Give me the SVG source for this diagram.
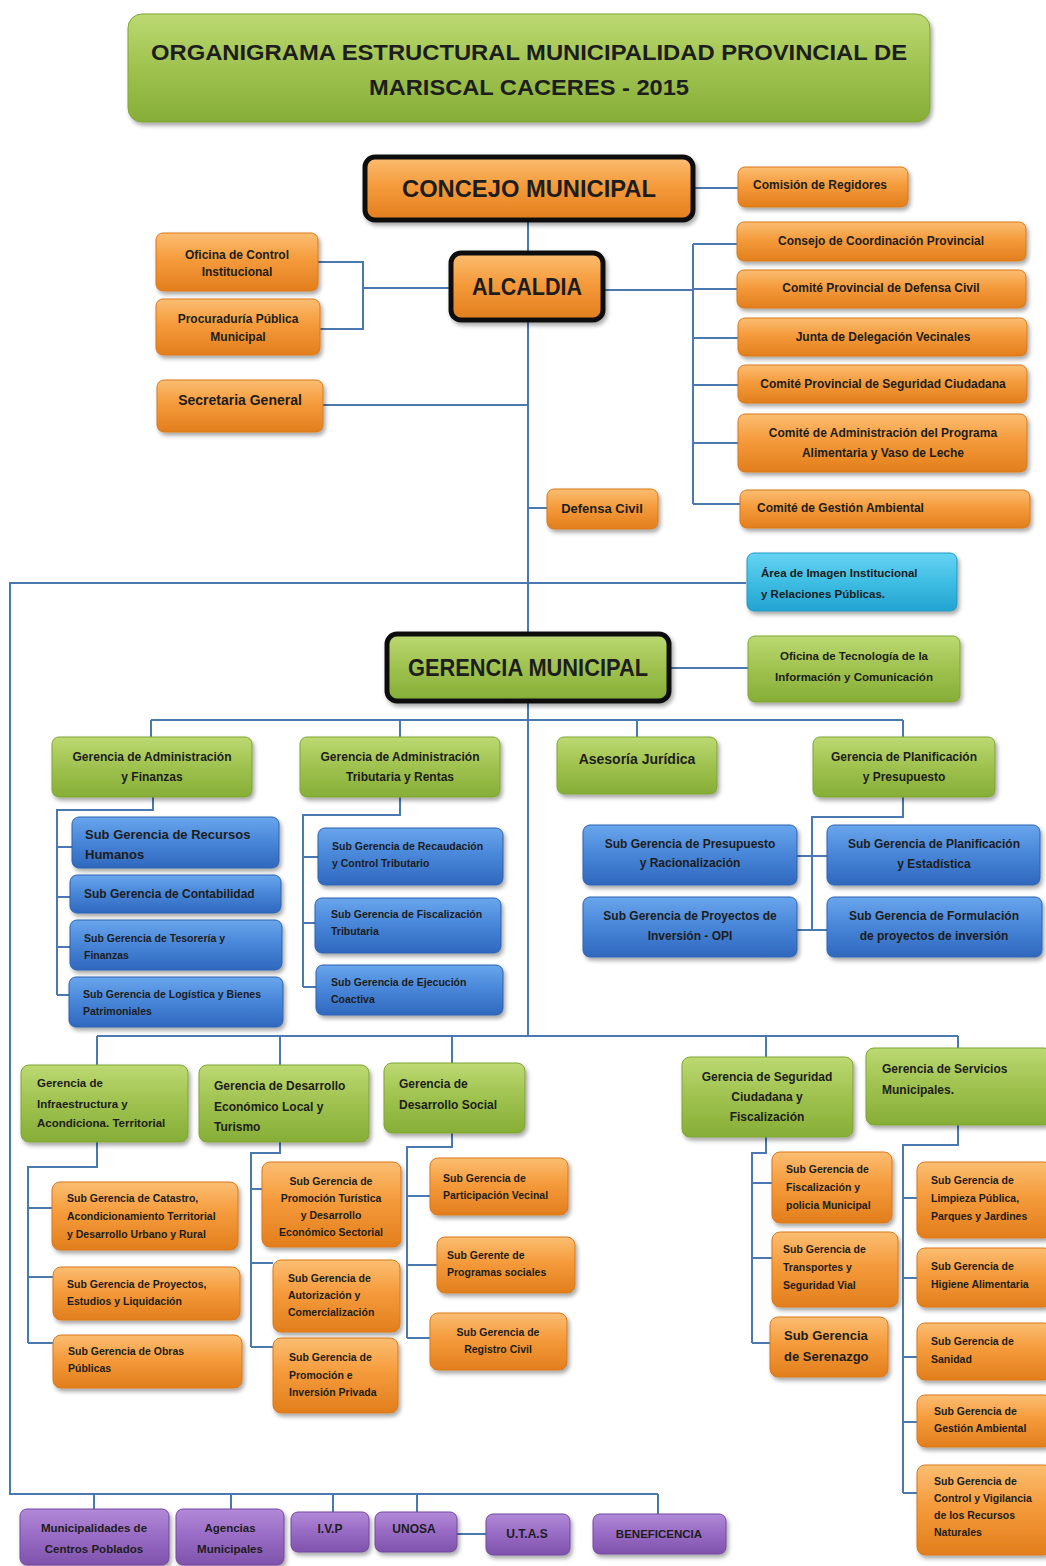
<svg xmlns="http://www.w3.org/2000/svg" width="1046" height="1566" viewBox="0 0 1046 1566">
<defs>
<linearGradient id="gO" x1="0" y1="0" x2="0" y2="1"><stop offset="0" stop-color="#FBBE72"/><stop offset="0.45" stop-color="#F59B3C"/><stop offset="1" stop-color="#E27E1C"/></linearGradient>
<linearGradient id="gG" x1="0" y1="0" x2="0" y2="1"><stop offset="0" stop-color="#BCD972"/><stop offset="0.45" stop-color="#A2C452"/><stop offset="1" stop-color="#86AE36"/></linearGradient>
<linearGradient id="gB" x1="0" y1="0" x2="0" y2="1"><stop offset="0" stop-color="#6AA6EC"/><stop offset="0.45" stop-color="#4A88DA"/><stop offset="1" stop-color="#2F68BE"/></linearGradient>
<linearGradient id="gC" x1="0" y1="0" x2="0" y2="1"><stop offset="0" stop-color="#66D3F2"/><stop offset="0.5" stop-color="#3FBDE3"/><stop offset="1" stop-color="#22A3D0"/></linearGradient>
<linearGradient id="gP" x1="0" y1="0" x2="0" y2="1"><stop offset="0" stop-color="#B28AD8"/><stop offset="0.45" stop-color="#9A6DC6"/><stop offset="1" stop-color="#7F52AC"/></linearGradient>
<filter id="sh" x="-10%" y="-10%" width="125%" height="140%"><feDropShadow dx="2" dy="3" stdDeviation="2" flood-color="#000" flood-opacity="0.35"/></filter>
</defs>
<style>
.o{fill:url(#gO);stroke:#D9781A;stroke-width:1;filter:url(#sh)}
.g{fill:url(#gG);stroke:#7FA534;stroke-width:1;filter:url(#sh)}
.b{fill:url(#gB);stroke:#2C62B0;stroke-width:1;filter:url(#sh)}
.c{fill:url(#gC);stroke:#1E98C4;stroke-width:1;filter:url(#sh)}
.p{fill:url(#gP);stroke:#73479E;stroke-width:1;filter:url(#sh)}
.k{stroke:#111;stroke-width:5}
text{font-family:"Liberation Sans",Arial,sans-serif;font-weight:bold;fill:#1d1d1d}
.m{text-anchor:middle}
.f10{font-size:10.5px}
.f11{font-size:11.5px}
.f12{font-size:12px}
.f13{font-size:13px}
.f14{font-size:14px}
.big{font-size:24px}
.tt{font-size:22px}
#conn line,#conn polyline{stroke:#4A78B0;stroke-width:2;fill:none}
</style>

<g id="conn">
<line x1="528" y1="220" x2="528" y2="252"/>
<line x1="694" y1="188" x2="738" y2="188"/>
<polyline points="318,262 363,262 363,329 320,329"/>
<line x1="363" y1="288" x2="451" y2="288"/>
<line x1="323" y1="405" x2="528" y2="405"/>
<line x1="603" y1="290" x2="693" y2="290"/>
<line x1="693" y1="244" x2="693" y2="504"/>
<line x1="693" y1="244" x2="737" y2="244"/>
<line x1="693" y1="289" x2="737" y2="289"/>
<line x1="693" y1="338" x2="738" y2="338"/>
<line x1="693" y1="385" x2="738" y2="385"/>
<line x1="693" y1="443" x2="738" y2="443"/>
<line x1="693" y1="504" x2="740" y2="504"/>
<line x1="528" y1="320" x2="528" y2="1036"/>
<line x1="528" y1="508" x2="547" y2="508"/>
<polyline points="746,583 10,583 10,1494 658,1494"/>
<line x1="669" y1="668" x2="748" y2="668"/>
<line x1="151" y1="720" x2="903" y2="720"/>
<line x1="151" y1="720" x2="151" y2="737"/>
<line x1="400" y1="720" x2="400" y2="737"/>
<line x1="637" y1="720" x2="637" y2="737"/>
<line x1="903" y1="720" x2="903" y2="737"/>
<polyline points="153,797 153,810 57,810 57,995"/>
<line x1="57" y1="847" x2="72" y2="847"/>
<line x1="57" y1="897" x2="70" y2="897"/>
<line x1="57" y1="947" x2="70" y2="947"/>
<line x1="57" y1="995" x2="69" y2="995"/>
<polyline points="400,797 400,815 303,815 303,987"/>
<line x1="303" y1="857" x2="318" y2="857"/>
<line x1="303" y1="923" x2="315" y2="923"/>
<line x1="303" y1="987" x2="316" y2="987"/>
<polyline points="903,797 903,817 812,817 812,930"/>
<line x1="797" y1="856" x2="827" y2="856"/>
<line x1="797" y1="930" x2="827" y2="930"/>
<line x1="97" y1="1036" x2="958" y2="1036"/>
<line x1="97" y1="1036" x2="97" y2="1065"/>
<line x1="280" y1="1036" x2="280" y2="1065"/>
<line x1="452" y1="1036" x2="452" y2="1063"/>
<line x1="766" y1="1036" x2="766" y2="1057"/>
<line x1="958" y1="1036" x2="958" y2="1048"/>
<polyline points="97,1142 97,1167 28,1167 28,1343"/>
<line x1="28" y1="1208" x2="52" y2="1208"/>
<line x1="28" y1="1277" x2="53" y2="1277"/>
<line x1="28" y1="1343" x2="53" y2="1343"/>
<polyline points="280,1142 280,1153 251,1153 251,1347"/>
<line x1="251" y1="1189" x2="262" y2="1189"/>
<line x1="251" y1="1263" x2="273" y2="1263"/>
<line x1="251" y1="1347" x2="273" y2="1347"/>
<polyline points="452,1133 452,1147 407,1147 407,1338"/>
<line x1="407" y1="1196" x2="430" y2="1196"/>
<line x1="407" y1="1265" x2="437" y2="1265"/>
<line x1="407" y1="1338" x2="430" y2="1338"/>
<polyline points="766,1137 766,1153 752,1153 752,1343"/>
<line x1="752" y1="1183" x2="772" y2="1183"/>
<line x1="752" y1="1258" x2="772" y2="1258"/>
<line x1="752" y1="1343" x2="770" y2="1343"/>
<polyline points="958,1125 958,1145 903,1145 903,1493"/>
<line x1="903" y1="1198" x2="917" y2="1198"/>
<line x1="903" y1="1278" x2="917" y2="1278"/>
<line x1="903" y1="1357" x2="917" y2="1357"/>
<line x1="903" y1="1422" x2="917" y2="1422"/>
<line x1="903" y1="1493" x2="917" y2="1493"/>
<line x1="94" y1="1494" x2="94" y2="1509"/>
<line x1="231" y1="1494" x2="231" y2="1509"/>
<line x1="333" y1="1494" x2="333" y2="1512"/>
<line x1="417" y1="1494" x2="417" y2="1512"/>
<line x1="658" y1="1494" x2="658" y2="1514"/>
<line x1="457" y1="1534" x2="486" y2="1534"/>
</g>

<g id="title"><rect class="g" x="128" y="14" width="802" height="108" rx="14"/>
<text class="tt m" x="529" y="60" textLength="756" lengthAdjust="spacingAndGlyphs">ORGANIGRAMA ESTRUCTURAL MUNICIPALIDAD PROVINCIAL DE</text>
<text class="tt m" x="529" y="95" textLength="320" lengthAdjust="spacingAndGlyphs">MARISCAL CACERES - 2015</text></g>

<g id="concejo"><rect class="o k" x="365" y="157" width="328" height="63" rx="10"/>
<text class="big m" x="529" y="197" textLength="254" lengthAdjust="spacingAndGlyphs">CONCEJO MUNICIPAL</text></g>
<g id="comision"><rect class="o" x="738" y="167" width="170" height="40" rx="7"/>
<text class="f12" x="753" y="189">Comisión de Regidores</text></g>
<g id="alcaldia"><rect class="o k" x="451" y="253" width="152" height="67" rx="10"/>
<text class="big m" x="527" y="295" textLength="110" lengthAdjust="spacingAndGlyphs">ALCALDIA</text></g>
<g id="oci"><rect class="o" x="156" y="233" width="162" height="58" rx="7"/>
<text class="f12 m" x="237" y="259">Oficina de Control</text><text class="f12 m" x="237" y="276">Institucional</text></g>
<g id="procuraduria"><rect class="o" x="156" y="299" width="164" height="56" rx="7"/>
<text class="f12 m" x="238" y="323">Procuraduría Pública</text><text class="f12 m" x="238" y="341">Municipal</text></g>
<g id="secretaria"><rect class="o" x="157" y="380" width="166" height="52" rx="7"/>
<text class="f14 m" x="240" y="405">Secretaria General</text></g>

<g id="consejo"><rect class="o" x="737" y="222" width="289" height="39" rx="7"/>
<text class="f12 m" x="881" y="245">Consejo de Coordinación Provincial</text></g>
<g id="defcivilcom"><rect class="o" x="737" y="270" width="289" height="38" rx="7"/>
<text class="f12 m" x="881" y="292">Comité Provincial de Defensa Civil</text></g>
<g id="junta"><rect class="o" x="738" y="318" width="289" height="38" rx="7"/>
<text class="f12 m" x="883" y="341">Junta de Delegación Vecinales</text></g>
<g id="segciud"><rect class="o" x="738" y="365" width="289" height="38" rx="7"/>
<text class="f12 m" x="883" y="388">Comité Provincial de Seguridad Ciudadana</text></g>
<g id="vaso"><rect class="o" x="738" y="414" width="289" height="58" rx="7"/>
<text class="f12 m" x="883" y="437">Comité de Administración del Programa</text><text class="f12 m" x="883" y="457">Alimentaria y Vaso de Leche</text></g>
<g id="gestamb"><rect class="o" x="740" y="490" width="290" height="38" rx="7"/>
<text class="f12" x="757" y="512">Comité de Gestión Ambiental</text></g>
<g id="defensa"><rect class="o" x="547" y="489" width="111" height="40" rx="7"/>
<text class="f13 m" x="602" y="513">Defensa Civil</text></g>

<g id="imagen"><rect class="c" x="747" y="553" width="210" height="58" rx="7"/>
<text class="f11" x="761" y="577">Área de Imagen Institucional</text><text class="f11" x="761" y="598">y Relaciones Públicas.</text></g>
<g id="gerencia"><rect class="g k" x="387" y="634" width="282" height="67" rx="10"/>
<text class="big m" x="528" y="676" textLength="240" lengthAdjust="spacingAndGlyphs">GERENCIA MUNICIPAL</text></g>
<g id="otic"><rect class="g" x="748" y="636" width="212" height="66" rx="7"/>
<text class="f11 m" x="854" y="660">Oficina de Tecnología  de la</text><text class="f11 m" x="854" y="681">Información y Comunicación</text></g>

<g id="gaf"><rect class="g" x="52" y="737" width="200" height="60" rx="7"/>
<text class="f12 m" x="152" y="761">Gerencia de Administración</text><text class="f12 m" x="152" y="781">y Finanzas</text></g>
<g id="gat"><rect class="g" x="300" y="737" width="200" height="60" rx="7"/>
<text class="f12 m" x="400" y="761">Gerencia de Administración</text><text class="f12 m" x="400" y="781">Tributaria y Rentas</text></g>
<g id="asesoria"><rect class="g" x="557" y="737" width="160" height="57" rx="7"/>
<text class="f14 m" x="637" y="764">Asesoría Jurídica</text></g>
<g id="gpp"><rect class="g" x="813" y="737" width="182" height="60" rx="7"/>
<text class="f12 m" x="904" y="761">Gerencia de Planificación</text><text class="f12 m" x="904" y="781">y Presupuesto</text></g>

<g id="sgrh"><rect class="b" x="72" y="817" width="207" height="51" rx="7"/>
<text class="f13" x="85" y="839">Sub Gerencia de Recursos</text><text class="f13" x="85" y="859">Humanos</text></g>
<g id="sgcont"><rect class="b" x="70" y="875" width="211" height="38" rx="7"/>
<text class="f12" x="84" y="898">Sub Gerencia de Contabilidad</text></g>
<g id="sgtes"><rect class="b" x="70" y="920" width="212" height="50" rx="7"/>
<text class="f10" x="84" y="942">Sub Gerencia de Tesorería y</text><text class="f10" x="84" y="959">Finanzas</text></g>
<g id="sglog"><rect class="b" x="69" y="977" width="214" height="50" rx="7"/>
<text class="f10" x="83" y="998">Sub Gerencia de Logística y Bienes</text><text class="f10" x="83" y="1015">Patrimoniales</text></g>
<g id="sgrec"><rect class="b" x="318" y="828" width="185" height="57" rx="7"/>
<text class="f10" x="332" y="850">Sub Gerencia de Recaudación</text><text class="f10" x="332" y="867">y Control Tributario</text></g>
<g id="sgfisc"><rect class="b" x="315" y="898" width="186" height="55" rx="7"/>
<text class="f10" x="331" y="918">Sub Gerencia de Fiscalización</text><text class="f10" x="331" y="935">Tributaria</text></g>
<g id="sgejec"><rect class="b" x="316" y="965" width="187" height="50" rx="7"/>
<text class="f10" x="331" y="986">Sub Gerencia de Ejecución</text><text class="f10" x="331" y="1003">Coactiva</text></g>
<g id="sgpres"><rect class="b" x="583" y="825" width="214" height="60" rx="7"/>
<text class="f12 m" x="690" y="848">Sub Gerencia de Presupuesto</text><text class="f12 m" x="690" y="867">y Racionalización</text></g>
<g id="sgopi"><rect class="b" x="583" y="897" width="214" height="60" rx="7"/>
<text class="f12 m" x="690" y="920">Sub Gerencia de Proyectos de</text><text class="f12 m" x="690" y="940">Inversión - OPI</text></g>
<g id="sgplan"><rect class="b" x="827" y="825" width="213" height="60" rx="7"/>
<text class="f12 m" x="934" y="848">Sub Gerencia de Planificación</text><text class="f12 m" x="934" y="868">y Estadística</text></g>
<g id="sgform"><rect class="b" x="827" y="897" width="215" height="60" rx="7"/>
<text class="f12 m" x="934" y="920">Sub Gerencia de Formulación</text><text class="f12 m" x="934" y="940">de proyectos de inversión</text></g>

<g id="ginfra"><rect class="g" x="21" y="1065" width="167" height="77" rx="8"/>
<text class="f11" x="37" y="1087">Gerencia de</text><text class="f11" x="37" y="1108">Infraestructura y</text><text class="f11" x="37" y="1127">Acondiciona. Territorial</text></g>
<g id="gecon"><rect class="g" x="199" y="1065" width="170" height="77" rx="8"/>
<text class="f12" x="214" y="1090">Gerencia de Desarrollo</text><text class="f12" x="214" y="1111">Económico Local y</text><text class="f12" x="214" y="1131">Turismo</text></g>
<g id="gsocial"><rect class="g" x="384" y="1063" width="141" height="70" rx="8"/>
<text class="f12" x="399" y="1088">Gerencia de</text><text class="f12" x="399" y="1109">Desarrollo Social</text></g>
<g id="gseg"><rect class="g" x="682" y="1057" width="171" height="80" rx="8"/>
<text class="f12 m" x="767" y="1081">Gerencia de Seguridad</text><text class="f12 m" x="767" y="1101">Ciudadana y</text><text class="f12 m" x="767" y="1121">Fiscalización</text></g>
<g id="gserv"><rect class="g" x="866" y="1048" width="186" height="77" rx="8"/>
<text class="f12" x="882" y="1073">Gerencia de Servicios</text><text class="f12" x="882" y="1094">Municipales.</text></g>

<g id="sgcat"><rect class="o" x="52" y="1182" width="186" height="68" rx="8"/>
<text class="f10" x="67" y="1202">Sub Gerencia de Catastro,</text><text class="f10" x="67" y="1220">Acondicionamiento Territorial</text><text class="f10" x="67" y="1238">y Desarrollo Urbano y Rural</text></g>
<g id="sgproy"><rect class="o" x="53" y="1267" width="187" height="53" rx="8"/>
<text class="f10" x="67" y="1288">Sub Gerencia de Proyectos,</text><text class="f10" x="67" y="1305">Estudios y Liquidación</text></g>
<g id="sgobras"><rect class="o" x="53" y="1335" width="189" height="53" rx="8"/>
<text class="f10" x="68" y="1355">Sub Gerencia de Obras</text><text class="f10" x="68" y="1372">Públicas</text></g>
<g id="sgtur"><rect class="o" x="262" y="1162" width="139" height="85" rx="8"/>
<text class="f10 m" x="331" y="1185">Sub Gerencia de</text><text class="f10 m" x="331" y="1202">Promoción Turística</text><text class="f10 m" x="331" y="1219">y Desarrollo</text><text class="f10 m" x="331" y="1236">Económico Sectorial</text></g>
<g id="sgaut"><rect class="o" x="273" y="1260" width="127" height="72" rx="8"/>
<text class="f10" x="288" y="1282">Sub Gerencia de</text><text class="f10" x="288" y="1299">Autorización y</text><text class="f10" x="288" y="1316">Comercialización</text></g>
<g id="sginv"><rect class="o" x="273" y="1338" width="125" height="75" rx="8"/>
<text class="f10" x="289" y="1361">Sub Gerencia de</text><text class="f10" x="289" y="1379">Promoción e</text><text class="f10" x="289" y="1396">Inversión Privada</text></g>
<g id="sgpart"><rect class="o" x="430" y="1158" width="138" height="57" rx="8"/>
<text class="f10" x="443" y="1182">Sub Gerencia de</text><text class="f10" x="443" y="1199">Participación Vecinal</text></g>
<g id="sgprog"><rect class="o" x="437" y="1237" width="138" height="56" rx="8"/>
<text class="f10" x="447" y="1259">Sub Gerente de</text><text class="f10" x="447" y="1276">Programas sociales</text></g>
<g id="sgreg"><rect class="o" x="430" y="1313" width="137" height="57" rx="8"/>
<text class="f10 m" x="498" y="1336">Sub Gerencia de</text><text class="f10 m" x="498" y="1353">Registro Civil</text></g>
<g id="sgfpm"><rect class="o" x="772" y="1152" width="120" height="71" rx="8"/>
<text class="f10" x="786" y="1173">Sub Gerencia de</text><text class="f10" x="786" y="1191">Fiscalización y</text><text class="f10" x="786" y="1209">policia Municipal</text></g>
<g id="sgtrans"><rect class="o" x="772" y="1232" width="126" height="75" rx="8"/>
<text class="f10" x="783" y="1253">Sub Gerencia de</text><text class="f10" x="783" y="1271">Transportes y</text><text class="f10" x="783" y="1289">Seguridad Vial</text></g>
<g id="sgseren"><rect class="o" x="770" y="1317" width="118" height="60" rx="8"/>
<text class="f13" x="784" y="1340">Sub Gerencia</text><text class="f13" x="784" y="1361">de Serenazgo</text></g>
<g id="sglimp"><rect class="o" x="917" y="1162" width="135" height="76" rx="8"/>
<text class="f10" x="931" y="1184">Sub Gerencia de</text><text class="f10" x="931" y="1202">Limpieza Pública,</text><text class="f10" x="931" y="1220">Parques y Jardines</text></g>
<g id="sghig"><rect class="o" x="917" y="1248" width="135" height="59" rx="8"/>
<text class="f10" x="931" y="1270">Sub Gerencia de</text><text class="f10" x="931" y="1288">Higiene Alimentaria</text></g>
<g id="sgsan"><rect class="o" x="917" y="1323" width="135" height="57" rx="8"/>
<text class="f10" x="931" y="1345">Sub Gerencia de</text><text class="f10" x="931" y="1363">Sanidad</text></g>
<g id="sgga"><rect class="o" x="917" y="1395" width="135" height="52" rx="8"/>
<text class="f10" x="934" y="1415">Sub Gerencia de</text><text class="f10" x="934" y="1432">Gestión Ambiental</text></g>
<g id="sgcvr"><rect class="o" x="917" y="1465" width="135" height="90" rx="8"/>
<text class="f10" x="934" y="1485">Sub Gerencia de</text><text class="f10" x="934" y="1502">Control y Vigilancia</text><text class="f10" x="934" y="1519">de los Recursos</text><text class="f10" x="934" y="1536">Naturales</text></g>

<g id="mcp"><rect class="p" x="20" y="1509" width="149" height="56" rx="7"/>
<text class="f11 m" x="94" y="1532">Municipalidades de</text><text class="f11 m" x="94" y="1553">Centros Poblados</text></g>
<g id="agencias"><rect class="p" x="176" y="1509" width="108" height="56" rx="7"/>
<text class="f11 m" x="230" y="1532">Agencias</text><text class="f11 m" x="230" y="1553">Municipales</text></g>
<g id="ivp"><rect class="p" x="291" y="1512" width="78" height="40" rx="7"/>
<text class="f12 m" x="330" y="1533">I.V.P</text></g>
<g id="unosa"><rect class="p" x="375" y="1512" width="82" height="40" rx="7"/>
<text class="f12 m" x="414" y="1533">UNOSA</text></g>
<g id="utas"><rect class="p" x="486" y="1514" width="84" height="41" rx="7"/>
<text class="f12 m" x="527" y="1538">U.T.A.S</text></g>
<g id="benef"><rect class="p" x="593" y="1514" width="133" height="40" rx="7"/>
<text class="f11 m" x="659" y="1538">BENEFICENCIA</text></g>
</svg>
